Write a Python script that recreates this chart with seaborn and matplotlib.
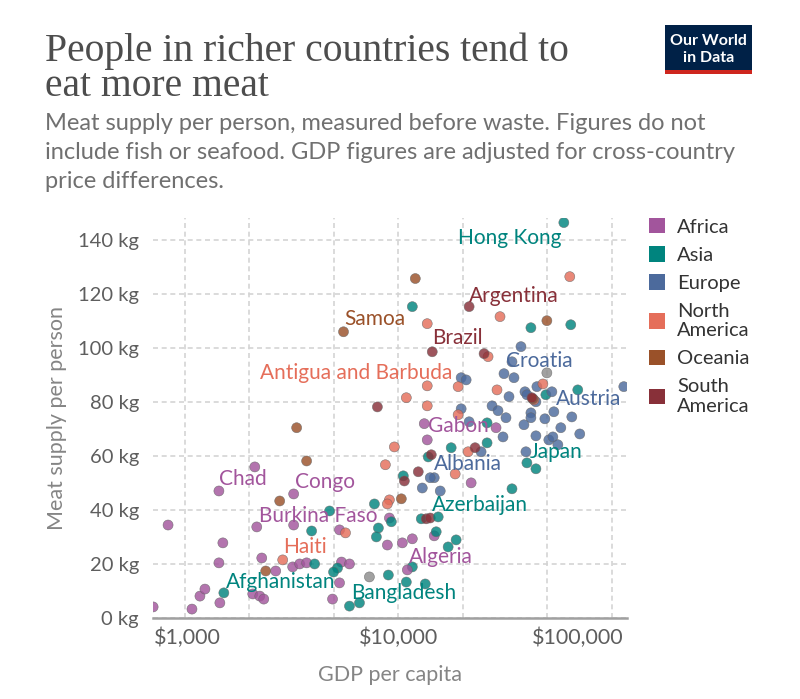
import matplotlib
matplotlib.use("Agg")
import matplotlib.pyplot as plt
import matplotlib.transforms as mtransforms
from matplotlib.patches import Patch, Rectangle
from matplotlib.ticker import FixedLocator, NullFormatter
import numpy as np
import pandas as pd
import seaborn as sns

# ---------------- data (GDP per capita in $, meat supply kg/person) ----------------
continents = ["Africa", "Asia", "Europe", "North America", "Oceania", "South America"]

africa_gdp = [709, 1078, 833, 1175, 1240, 1457, 1442, 1505, 2124, 3231, 2078, 2241, 2340, 2290,
              2662, 3197, 3447, 3716, 5301, 5416, 5902, 5301, 4915, 8883, 10440, 11630, 9080,
              14730, 21940, 13660, 28710]
africa_meat = [4.1, 3.3, 34.4, 8.1, 10.7, 5.6, 20.4, 27.8, 55.9, 34.4, 8.9, 8.1, 7.0, 22.2,
               17.4, 18.9, 20.0, 20.4, 32.6, 20.7, 20.0, 13.0, 7.0, 27.0, 27.8, 29.3, 37.0,
               30.4, 50.0, 65.9, 70.4]

asia_gdp = [11630, 64320, 41830, 69360, 49150, 17690, 26060, 13810, 44150, 10550, 34100, 7725,
            9275, 12810, 8064, 7891, 15050, 17120, 18660, 11630, 8980, 10900, 13370, 4760, 3922,
            4050, 5188, 6574, 26060, 4969]
asia_meat = [115.2, 108.5, 107.4, 84.4, 82.6, 63.0, 64.8, 59.6, 55.2, 52.6, 47.8, 42.2,
             35.6, 36.7, 33.3, 30.0, 31.9, 26.3, 28.9, 18.9, 15.9, 13.3, 12.6, 39.6, 32.2,
             20.0, 18.5, 5.6, 72.2, 17.0]

europe_gdp = [37570, 31280, 34840, 19700, 20790, 33020, 44620, 39220, 40060, 52450, 44150, 114000,
              19700, 27500, 29330, 31960, 41830, 41830, 48630, 65040, 38800, 57770, 70870, 30950,
              44150, 50760, 53010, 55950, 24430, 39640, 14730, 12950, 15720, 21470]
europe_meat = [100.4, 90.4, 88.9, 88.9, 88.1, 81.9, 85.6, 83.7, 82.6, 83.7, 80.0, 85.6,
               77.4, 78.5, 76.7, 74.1, 75.9, 74.1, 73.7, 74.4, 71.5, 70.4, 68.1, 67.0,
               67.4, 65.9, 67.0, 64.1, 61.5, 61.5, 51.9, 48.1, 47.0, 72.6]

north_america_gdp = [63630, 29970, 13660, 26340, 13660, 29010, 47600, 43200, 10900, 13660, 19070,
                     9580, 8696, 21240, 18470, 9080, 8883, 5654]
north_america_meat = [126.3, 111.5, 108.9, 96.7, 85.9, 84.4, 86.6, 80.7, 81.5, 78.5, 75.2,
                      63.3, 56.7, 61.5, 53.3, 43.7, 42.2, 31.5]

oceania_gdp = [12010, 49690, 42740, 3337, 3716, 2779, 2390, 10330]
oceania_meat = [125.6, 110.0, 81.1, 70.4, 58.1, 43.3, 17.4, 44.1]

south_america_gdp = [25230, 7977, 42280, 14270, 22900, 10670, 12400, 13510, 14110]
south_america_meat = [97.8, 78.1, 81.5, 60.4, 63.0, 50.7, 54.1, 36.7, 37.0]

other_gdp = [49690, 7318]
other_meat = [90.7, 15.2]

label_country = ["Hong Kong", "Argentina", "Samoa", "Brazil", "Antigua and Barbuda", "Croatia",
                 "Austria", "Gabon", "Japan", "Albania", "Azerbaijan", "Algeria", "Bangladesh",
                 "Afghanistan", "Haiti", "Burkina Faso", "Congo", "Chad"]
label_continent = ["Asia", "South America", "Oceania", "South America", "North America", "Europe",
                   "Europe", "Africa", "Asia", "Europe", "Asia", "Africa", "Asia",
                   "Asia", "North America", "Africa", "Africa", "Africa"]
label_gdp = [59680, 21470, 5534, 14420, 19070, 34100, 53580, 13230, 40060, 14110, 15380, 11020,
             5902, 1521, 2871, 2170, 3231, 1442]
label_meat = [146.3, 115.2, 105.9, 98.5, 85.6, 94.8, 76.3, 71.9, 57.4, 51.9, 37.4, 17.8,
              4.4, 9.3, 21.5, 33.7, 45.9, 47.0]

y_ticks = [0, 20, 40, 60, 80, 100, 120, 140]
x_ticks = [1000, 10000, 100000]
x_tick_labels = ["$1,000", "$10,000", "$100,000"]
x_minor = [2000, 5000, 20000, 50000]

# ---------------- styles ----------------
palette = {"Africa": "#A2559C", "Asia": "#00847E", "Europe": "#4C6A9C",
           "North America": "#E56E5A", "Oceania": "#9A5129", "South America": "#883039",
           "Other": "#8C8C8C"}

# label text offsets (pixels) and alignment
label_offsets = {
    "Hong Kong": (-2, -15, "right"), "Argentina": (0, 11, "left"), "Samoa": (1, 13, "left"),
    "Brazil": (0, 14, "left"), "Antigua and Barbuda": (-6, 14, "right"), "Croatia": (-6, 1, "left"),
    "Austria": (2, 13, "left"), "Gabon": (4, -2, "left"), "Japan": (3, 11, "left"),
    "Albania": (4, 14, "left"), "Azerbaijan": (-6, 12, "left"), "Algeria": (2, 13, "left"),
    "Bangladesh": (2, 13, "left"), "Afghanistan": (2, 11, "left"), "Haiti": (0, 13, "left"),
    "Burkina Faso": (2, 11, "left"), "Congo": (1, 12, "left"), "Chad": (0, 12, "left"),
}

# ---------------- build table ----------------
frames = []
for name, g, m in [("Africa", africa_gdp, africa_meat), ("Asia", asia_gdp, asia_meat),
                   ("Europe", europe_gdp, europe_meat),
                   ("North America", north_america_gdp, north_america_meat),
                   ("Oceania", oceania_gdp, oceania_meat),
                   ("South America", south_america_gdp, south_america_meat),
                   ("Other", other_gdp, other_meat)]:
    frames.append(pd.DataFrame({"gdp": g, "meat": m, "continent": name}))
frames.append(pd.DataFrame({"gdp": label_gdp, "meat": label_meat, "continent": label_continent}))
df = pd.concat(frames, ignore_index=True)

sns.set_theme(style="white")
plt.rcParams["font.family"] = ["Lato", "DejaVu Sans"]

fig = plt.figure(figsize=(8, 6.99), dpi=100)
ax = fig.add_axes([153 / 800, 1 - 618 / 699, (627 - 153) / 800, (618 - 218) / 699])

sns.scatterplot(data=df, x="gdp", y="meat", hue="continent", palette=palette,
                hue_order=continents + ["Other"], s=52, alpha=0.82,
                edgecolor="#666666", linewidth=0.4, legend=False, ax=ax, zorder=3)

ax.set_xscale("log")
ax.set_xlim(708, 118000)
ax.set_ylim(0, 148)
ax.set_xticks(x_ticks)
ax.set_xticklabels(x_tick_labels)
ax.xaxis.set_minor_locator(FixedLocator(x_minor))
ax.xaxis.set_minor_formatter(NullFormatter())
ax.set_yticks(y_ticks)
ax.set_yticklabels([f"{v} kg" for v in y_ticks])

grid_kw = dict(color="#d4d4d4", linewidth=1.2, linestyle=(0, (3, 2.2)))
ax.grid(True, which="both", axis="x", **grid_kw)
ax.grid(True, which="major", axis="y", **grid_kw)
ax.set_axisbelow(True)

for s in ["top", "right", "left"]:
    ax.spines[s].set_visible(False)
ax.spines["bottom"].set_color("#a0a0a0")
ax.spines["bottom"].set_linewidth(1.8)
ax.spines["bottom"].set_zorder(4)

ax.tick_params(axis="both", which="both", length=0, labelcolor="#5e5e5e")
ax.tick_params(axis="y", pad=10, labelsize=14.5)
ax.tick_params(axis="x", pad=7, labelsize=15.5)

# clamp first / last x tick labels to the plot edges
xt = ax.get_xticklabels()
xt[-1].set_ha("right")
xt[-1].set_transform(xt[-1].get_transform() + mtransforms.ScaledTranslation(12 / 100, 0, fig.dpi_scale_trans))
xt[0].set_ha("left")
xt[0].set_transform(xt[0].get_transform() + mtransforms.ScaledTranslation(-31 / 100, 0, fig.dpi_scale_trans))

ax.set_xlabel("GDP per capita", fontsize=15.5, color="#858585", labelpad=12)
ax.set_ylabel("Meat supply per person", fontsize=15.5, color="#858585", labelpad=8)

for name, cont, g, m in zip(label_country, label_continent, label_gdp, label_meat):
    dx, dy, ha = label_offsets[name]
    ax.annotate(name, xy=(g, m), xytext=(dx, dy), textcoords="offset pixels",
                ha=ha, va="center", fontsize=15, color=palette[cont], zorder=5)

# legend
handles = [Patch(facecolor=palette[c], edgecolor="none") for c in continents]
labels = ["Africa", "Asia", "Europe", "North\nAmerica", "Oceania", "South\nAmerica"]
fig.legend(handles, labels, loc="upper left", bbox_to_anchor=(649 / 800, 1 - 218 / 699),
           frameon=False, fontsize=14.5, handlelength=0.8, handleheight=0.8,
           handletextpad=0.6, labelspacing=0.52, borderaxespad=0, borderpad=0,
           labelcolor="#333333")

# title & subtitle
title_family = ["Liberation Serif", "DejaVu Serif"]
fig.text(45 / 800, 1 - 61 / 699, "People in richer countries tend to", fontsize=28.5,
         family=title_family, color="#4d4d4d", va="baseline")
fig.text(45 / 800, 1 - 96 / 699, "eat more meat", fontsize=28.5,
         family=title_family, color="#4d4d4d", va="baseline")
sub = ["Meat supply per person, measured before waste. Figures do not",
       "include fish or seafood. GDP figures are adjusted for cross-country",
       "price differences."]
for i, line in enumerate(sub):
    fig.text(45 / 800, 1 - (130 + 29 * i) / 699, line, fontsize=17, color="#707070",
             va="baseline")

# logo
fig.add_artist(Rectangle((665 / 800, 1 - 74 / 699), 87 / 800, 49 / 699,
                         transform=fig.transFigure, facecolor="#002147", edgecolor="none"))
fig.add_artist(Rectangle((665 / 800, 1 - 74 / 699), 87 / 800, 4 / 699,
                         transform=fig.transFigure, facecolor="#CE261E", edgecolor="none"))
fig.text(708.5 / 800, 1 - 41 / 699, "Our World", fontsize=11.5, color="white", ha="center",
         va="center", fontweight="bold")
fig.text(708.5 / 800, 1 - 58 / 699, "in Data", fontsize=11.5, color="white", ha="center",
         va="center", fontweight="bold")

fig.savefig("out.png", dpi=100)
